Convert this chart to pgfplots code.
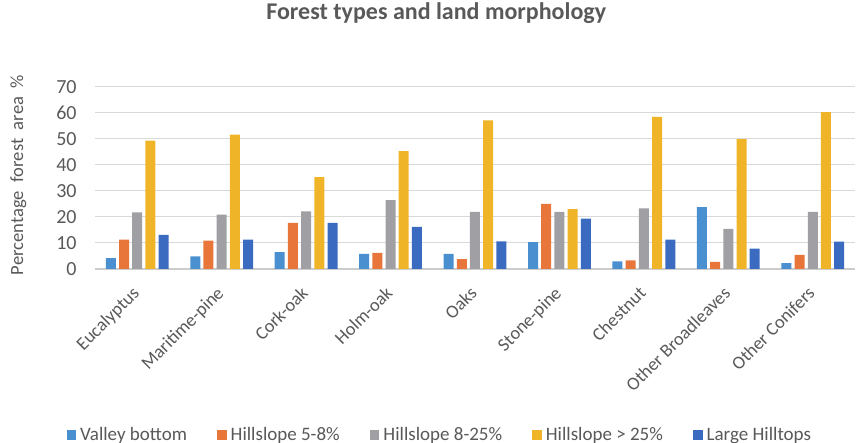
\documentclass[border=0pt]{standalone}
\usepackage{pgfplots}
\pgfplotsset{compat=1.18}
\usepackage{fontspec}
\setmainfont{Carlito}
\definecolor{cA}{HTML}{4A90D0}
\definecolor{cB}{HTML}{E8763A}
\definecolor{cC}{HTML}{A0A0A4}
\definecolor{cD}{HTML}{F0B429}
\definecolor{cE}{HTML}{3A6BC0}
\definecolor{txt}{HTML}{595959}
\begin{document}
\begin{tikzpicture}
\begin{axis}[
  scale only axis,
  width=380pt, height=91pt,
  ybar=1.6pt, bar width=5pt,
  xmin=-0.5, xmax=8.5,
  ymin=0, ymax=70,
  ytick={0,10,...,70},
  xtick=data,
  xticklabels={Eucalyptus,Maritime-pine,Cork-oak,Holm-oak,Oaks,Stone-pine,Chestnut,Other Broadleaves,Other Conifers},
  x tick label style={xshift=-3pt, yshift=-8pt, rotate=45, anchor=north east, font=\fontsize{9.2}{10}\selectfont, text=txt, inner sep=0pt},
  y tick label style={font=\fontsize{10}{11}\selectfont, text=txt, inner sep=0pt, xshift=-9pt},
  /pgf/number format/assume math mode=true,
  major tick length=0pt,
  ymajorgrids, grid style={draw=black!15, line width=0.5pt},
  axis x line*=bottom, axis y line*=left,
  y axis line style={draw=none},
  x axis line style={draw=black!20, line width=0.6pt, -},
  ylabel={Percentage\ \ forest\ \ area\ \ \%},
  ylabel style={at={(axis description cs:-0.101,0.516)}, anchor=center, font=\fontsize{9.3}{10}\selectfont, text=txt},
  title={\bfseries Forest types and land morphology},
  title style={at={(axis description cs:0.449,1.341)}, anchor=center, yshift=0pt, font=\fontsize{12}{14}\selectfont, text=txt},
  legend columns=5,
  legend style={at={(axis description cs:0.455,-0.912)}, anchor=center, draw=none, font=\fontsize{9.5}{10}\selectfont, text=txt, /tikz/every even column/.append style={column sep=13pt}},
  legend image code/.code={\fill[#1] (0cm,-0.09cm) rectangle (0.17cm,0.09cm);},
  every axis plot/.append style={draw=none},
]
\coordinate (O) at (rel axis cs:0,0);
\addplot[fill=cA] coordinates {(0,4.2) (1,4.9) (2,6.5) (3,5.8) (4,5.8) (5,10.3) (6,2.9) (7,23.8) (8,2.3)};
\addplot[fill=cB] coordinates {(0,11.3) (1,10.9) (2,17.7) (3,6.2) (4,3.8) (5,25.0) (6,3.3) (7,2.7) (8,5.4)};
\addplot[fill=cC] coordinates {(0,21.8) (1,20.9) (2,22.2) (3,26.5) (4,22.0) (5,22.0) (6,23.3) (7,15.4) (8,22.0)};
\addplot[fill=cD] coordinates {(0,49.4) (1,51.7) (2,35.3) (3,45.3) (4,57.2) (5,23.0) (6,58.5) (7,49.9) (8,60.3)};
\addplot[fill=cE] coordinates {(0,13.1) (1,11.3) (2,17.7) (3,16.2) (4,10.6) (5,19.4) (6,11.3) (7,7.8) (8,10.5)};
\legend{Valley bottom,Hillslope 5-8\%,Hillslope 8-25\%,Hillslope > 25\%,Large Hilltops}
\end{axis}
\pgfresetboundingbox
\useasboundingbox ([shift={(-47.5pt,-87pt)}]O) rectangle ([shift={(382pt,134.5pt)}]O);
\end{tikzpicture}
\end{document}
